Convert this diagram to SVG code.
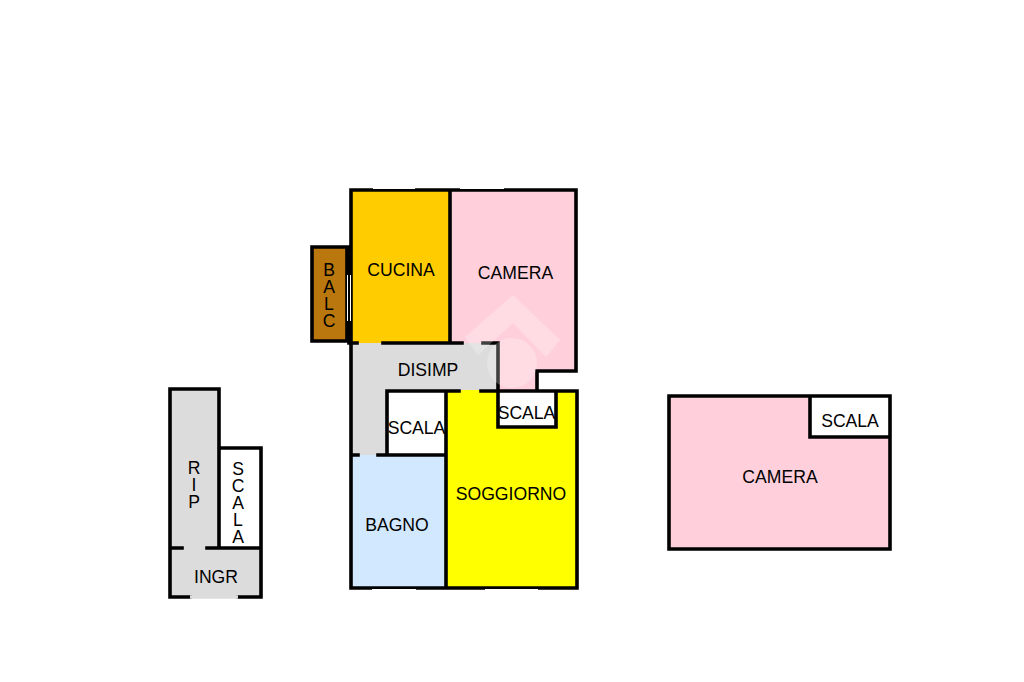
<svg xmlns="http://www.w3.org/2000/svg" width="1024" height="682" viewBox="0 0 1024 682">
<style>
.w{fill:none;stroke:#000;stroke-width:3.6;stroke-linecap:square;stroke-linejoin:miter}
.t{font-family:"Liberation Sans",Arial,sans-serif;font-size:17.6px;fill:#000;text-anchor:middle}
.v{font-family:"Liberation Sans",Arial,sans-serif;font-size:17.6px;fill:#000;writing-mode:vertical-rl;text-orientation:upright;letter-spacing:-3px}
.g{fill:#dcdcdc}.p{fill:#ffd0dc}.y{fill:#ffff00}
.win{stroke:#fff;stroke-width:1;fill:none}
</style>
<rect width="1024" height="682" fill="#fff"/>
<g id="fills">
<rect x="351" y="190" width="99" height="153" fill="#ffcc00"/>
<polygon class="p" points="450,190 576,190 576,371 537,371 537,391 498,391 498,343 450,343"/>
<rect x="312" y="247" width="36" height="94" fill="#b9770e"/>
<polygon class="g" points="351,343 498,343 498,391 387,391 387,455 351,455"/>
<rect x="351" y="455" width="95" height="133" fill="#d2e8ff"/>
<polygon class="y" points="446,390 577,390 577,588 446,588"/>
<rect x="387" y="391" width="59" height="64" fill="#fff"/>
<rect x="498" y="391" width="58" height="37" fill="#fff"/>
<rect class="g" x="170" y="389" width="49" height="159"/>
<rect class="g" x="170" y="548" width="91" height="49"/>
<rect x="219" y="448" width="42" height="100" fill="#fff"/>
<rect class="p" x="669" y="396" width="221" height="153"/>
<rect x="810" y="396" width="80" height="42" fill="#fff"/>
</g>
<g id="walls">
<path class="w" d="M351 190H576V371H537V390M450 190V343M351 190V588H577V391H481M459 391H387V455H446M351 343H357M383 343H462M483 343H498V390M352 455H358M378 455H387M446 391V588M498 391V427H556V391"/>
<path class="w" d="M312 247H347V341H312ZM349 247V343"/>
<path class="w" d="M170 389H219V548M219 448H261V597H238M190 597H170V389M170 548H182M207 548H261"/>
<path class="w" d="M669 396H890V549H669ZM810 396V437H890"/>
</g>
<g id="openings">
<path class="win" d="M373 188.500H415M460 188.500H504M372 589.500H416M485 589.500H538M347.500 275V321M350.500 275V321"/>
<path stroke="#dcdcdc" stroke-width="3.600" d="M190 597H238" fill="none"/>
</g>
<g id="watermark" fill="#fff" opacity=".25">
<polygon points="513,295 560,340 546,357 513,323 478,355 465,337"/>
<circle cx="512" cy="363" r="25"/>
</g>
<g id="labels">
<text class="t" x="401" y="275.500">CUCINA</text>
<text class="t" x="515.500" y="278.500">CAMERA</text>
<text class="t" x="428" y="375.500">DISIMP</text>
<text class="t" x="416.500" y="433.500">SCALA</text>
<text class="t" x="526.500" y="418.500">SCALA</text>
<text class="t" x="511" y="499.500">SOGGIORNO</text>
<text class="t" x="397" y="530.500">BAGNO</text>
<text class="t" x="216" y="583">INGR</text>
<text class="t" x="780" y="482.500">CAMERA</text>
<text class="t" x="850" y="426.500">SCALA</text>
<text class="v" x="329" y="260">BALC</text>
<text class="v" x="194" y="458">RIP</text>
<text class="v" x="238" y="459">SCALA</text>
</g>
</svg>
